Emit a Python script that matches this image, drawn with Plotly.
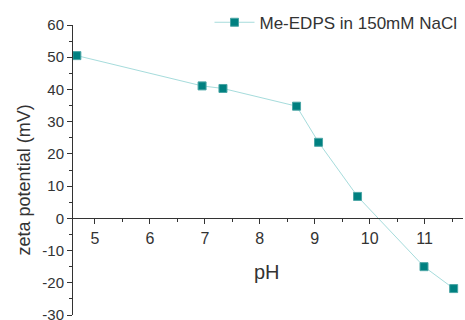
import plotly.graph_objects as go

ph = [4.67, 6.95, 7.33, 8.67, 9.07, 9.78, 10.99, 11.53]
zeta = [50.5, 41.1, 40.3, 34.8, 23.6, 6.8, -15.0, -21.8]
series_name = "Me-EDPS in 150mM NaCl"

x_ticks = [5, 6, 7, 8, 9, 10, 11]
y_ticks = [-30, -20, -10, 0, 10, 20, 30, 40, 50, 60]
y_tick_labels = ["-30", "-20", "-10", "0", "10", "20", "30", "40", "50", "60"]

x_range = [4.6, 11.7]
y_range = [-30, 60]

fig = go.Figure()
fig.add_trace(go.Scatter(
    x=ph, y=zeta, mode="lines+markers", name=series_name,
    line=dict(color="#a6dcdc", width=1),
    marker=dict(symbol="square", size=8, color="#008080",
                line=dict(color="#4aa5a5", width=1)),
))

axis_color = "#333333"
zero_pos = (0 - y_range[0]) / (y_range[1] - y_range[0])

fig.update_layout(
    width=465, height=320,
    margin=dict(l=73, r=2, t=25, b=5, autoexpand=False),
    plot_bgcolor="white", paper_bgcolor="white",
    font=dict(family="Liberation Sans, Arial, sans-serif", size=15, color=axis_color),
    showlegend=True,
    legend=dict(x=0.35, xanchor="left", y=1.07, yanchor="top", itemwidth=40,
                bgcolor="rgba(0,0,0,0)", font=dict(size=17, color=axis_color)),
    xaxis=dict(range=x_range, anchor="free", position=zero_pos,
               showgrid=False, zeroline=False, showline=True,
               linecolor=axis_color, linewidth=1,
               ticks="outside", ticklen=5, tickcolor=axis_color,
               tickvals=x_ticks, ticklabeloverflow="allow",
               minor=dict(ticks="outside", ticklen=3, dtick=0.5, tick0=0, tickcolor=axis_color),
               tickfont=dict(size=16, color=axis_color)),
    yaxis=dict(range=y_range, showgrid=False, zeroline=False, showline=True,
               linecolor=axis_color, linewidth=1,
               ticks="outside", ticklen=5, tickcolor=axis_color,
               tickvals=y_ticks, ticktext=y_tick_labels, ticklabeloverflow="allow",
               minor=dict(ticks="outside", ticklen=3, dtick=5, tick0=0, tickcolor=axis_color),
               tickfont=dict(size=15, color=axis_color)),
    annotations=[
        dict(text="pH", x=8.14, y=-16.7, xref="x", yref="y", showarrow=False,
             font=dict(size=20, color=axis_color)),
        dict(text="zeta potential (mV)", x=0, xref="paper", xshift=-49, xanchor="center",
             y=0.464, yref="paper", yanchor="middle", textangle=-90, showarrow=False,
             font=dict(size=18, color=axis_color)),
    ],
)

fig.write_html("out.html", config={"displayModeBar": False},
               post_script="document.body.style.margin='0';document.body.style.overflow='hidden';")
